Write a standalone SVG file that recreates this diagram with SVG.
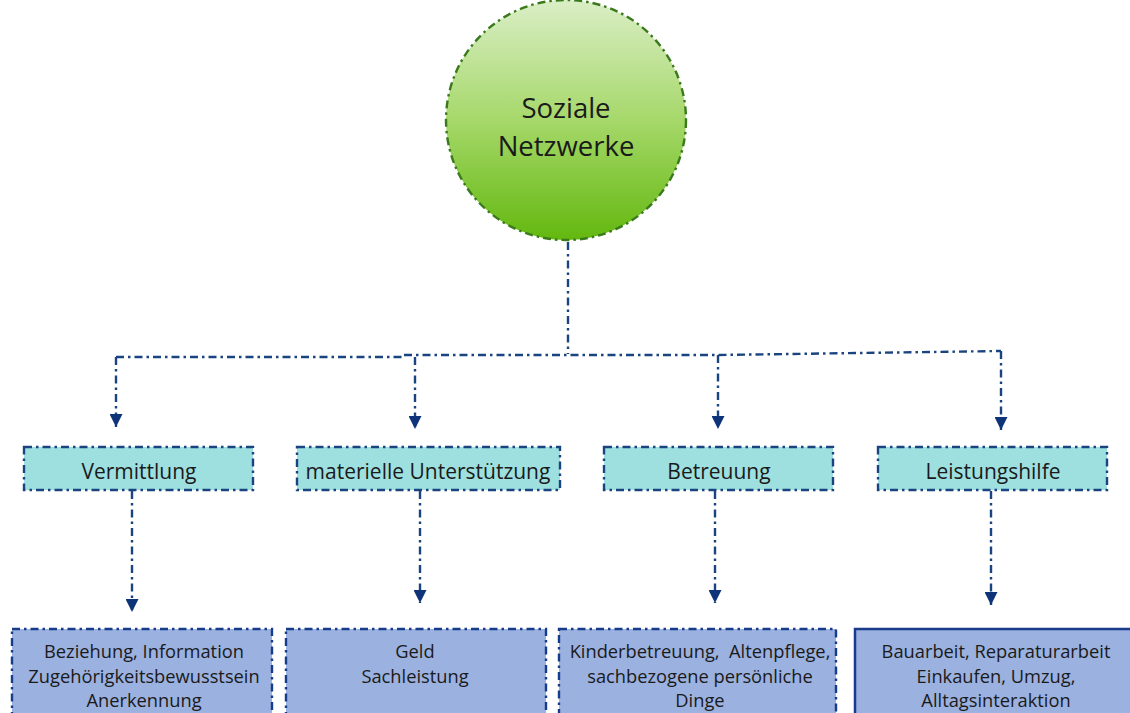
<svg xmlns="http://www.w3.org/2000/svg" width="1130" height="713" viewBox="0 0 1130 713">
<defs>
<linearGradient id="g" x1="0" y1="0" x2="0" y2="1">
<stop offset="0" stop-color="#daeec6"/>
<stop offset="0.5" stop-color="#a6d86a"/>
<stop offset="1" stop-color="#63b80f"/>
</linearGradient>
<marker id="ah" viewBox="0 0 10 10" refX="10" refY="5" markerWidth="13" markerHeight="13" markerUnits="userSpaceOnUse" orient="auto">
<path d="M0,0 L10,5 L0,10 Z" fill="#0d3478"/>
</marker>
</defs>
<style>
text{font-family:"Open Sans","Noto Sans","Liberation Sans",sans-serif;fill:#1a1a1a;text-anchor:middle;white-space:pre}
.c{stroke:#1a4480;stroke-width:2.4;fill:none;stroke-dasharray:8 4 2.5 4}
.l2 rect{fill:#9ee0e0;stroke:#1a4480;stroke-width:2.4;stroke-dasharray:8 4 2.5 4}
.l2 text{font-size:21px}
.l3 rect{fill:#9bb1e0;stroke:#163c8c;stroke-width:2.4;stroke-dasharray:8 4 2.5 4}
.l3 text{font-size:18.3px}
</style>
<g id="root">
<circle cx="566" cy="120" r="120" fill="url(#g)" stroke="#3a7a1c" stroke-width="2.4" stroke-dasharray="8 4 2.5 4"/>
<text x="566" y="118" font-size="27.5">Soziale</text>
<text x="566" y="156" font-size="27.5">Netzwerke</text>
</g>
<g id="connectors">
<path class="c" d="M568,242 V354"/>
<path class="c" d="M116,357 H402 M404,355 H718 L1001,351"/>
<path class="c" d="M116,357 V427" marker-end="url(#ah)"/>
<path class="c" d="M415,357 V429" marker-end="url(#ah)"/>
<path class="c" d="M718,355 V429" marker-end="url(#ah)"/>
<path class="c" d="M1001,351 V430" marker-end="url(#ah)"/>
<path class="c" d="M132,491 V612" marker-end="url(#ah)"/>
<path class="c" d="M420,491 V603" marker-end="url(#ah)"/>
<path class="c" d="M715,491 V603" marker-end="url(#ah)"/>
<path class="c" d="M991,491 V605" marker-end="url(#ah)"/>
</g>
<g id="vermittlung" class="l2">
<rect x="24" y="447" width="229" height="43"/>
<text x="139" y="479">Vermittlung</text>
</g>
<g id="materielle" class="l2">
<rect x="297" y="447" width="263" height="43"/>
<text x="428" y="479">materielle Unterstützung</text>
</g>
<g id="betreuung" class="l2">
<rect x="604" y="447" width="229" height="43"/>
<text x="719" y="479">Betreuung</text>
</g>
<g id="leistungshilfe" class="l2">
<rect x="878" y="447" width="229" height="43"/>
<text x="993" y="479">Leistungshilfe</text>
</g>
<g id="beziehung" class="l3">
<rect x="12" y="629" width="260" height="100"/>
<text x="144" y="658">Beziehung, Information</text>
<text x="144" y="683">Zugehörigkeitsbewusstsein</text>
<text x="144" y="707">Anerkennung</text>
</g>
<g id="geld" class="l3">
<rect x="286" y="629" width="260" height="100"/>
<text x="415" y="658">Geld</text>
<text x="415" y="683">Sachleistung</text>
</g>
<g id="kinder" class="l3">
<rect x="559" y="629" width="277" height="100"/>
<text x="700" y="658">Kinderbetreuung,  Altenpflege,</text>
<text x="700" y="683">sachbezogene persönliche</text>
<text x="700" y="707">Dinge</text>
</g>
<g id="bau" class="l3">
<rect x="855" y="629" width="290" height="100" style="stroke:#1a3a8c;stroke-width:2.5;stroke-dasharray:none"/>
<text x="996" y="658">Bauarbeit, Reparaturarbeit</text>
<text x="996" y="683">Einkaufen, Umzug,</text>
<text x="996" y="707">Alltagsinteraktion</text>
</g>
</svg>
